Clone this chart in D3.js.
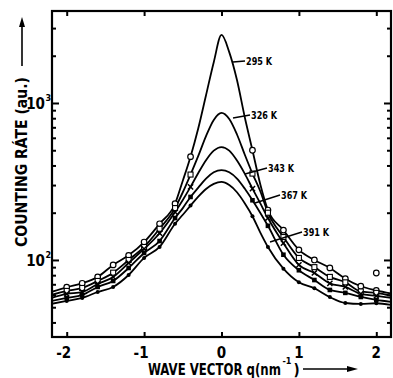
<!DOCTYPE html>
<html><head><meta charset="utf-8">
<script src="https://cdn.jsdelivr.net/npm/d3@7"></script>
<style>body{margin:0;background:#fff}svg{display:block}</style>
</head><body>
<svg id="c" width="393" height="378"></svg>
<script>
// wave vector q (nm^-1)
const qValues = [-2.2,-2,-1.8,-1.6,-1.4,-1.2,-1,-0.8,-0.6,-0.5,-0.4,-0.3,-0.2,-0.1,0,0.1,0.2,0.3,0.4,0.5,0.6,0.8,1,1.2,1.4,1.6,1.8,2,2.2];
// counting rate (a.u.) per temperature
const rate295 = [62.5,67,71,78,93,107,130,170,228,320,455,690,1120,1820,2712,2110,1400,815,500,305,208,155,116,100,89,76,68,64,61];
const rate326 = [59.8,63.5,66.3,73.5,83,100,121,158,214,270,350,460,615,780,864,790,630,470,355,275,200,140,103,90,78,72,63,61.7,59];
const rate343 = [57.3,60.8,62.5,70.3,78,95.7,117.5,148,202,241,292,358,432,497,524,497,430,355,285,230,185,128,93,82.6,71,67.3,60.8,59,57.3];
const rate367 = [54.8,57.3,59.8,67.3,73.5,88.9,110.8,132,185,214,252,289,330,362,374,362,330,285,240,200,165,108,86,74.5,64.4,61.7,58.1,55.6,54];
const rate391 = [52.5,54.8,57.3,62.5,67.3,80.2,103,121,170,194,222,253,283,305,314,300,270,230,190,150,121,88,72,66,58,53.2,52.5,53,51.6];
const seriesLabels = ["295 K","326 K","343 K","367 K","391 K"];
const markerTypes = ["openCircle","openSquare","cross","filledSquare","filledCircle"];
// q positions that carry measured points
const markQ = [-2,-1.8,-1.6,-1.4,-1.2,-1,-0.8,-0.6,-0.4,0.4,0.6,0.8,1,1.2,1.4,1.6,1.8,2];
// stray point
const strayQ = [2];
const strayRate = [82.6];
const xTicks = [-2,-1,0,1,2];
const yMajor = [100,1000];
const yMajorLabels = ["2","3"];

const svg = d3.select("#c");
const L=52,R=391,T=11,B=337;
const x = d3.scaleLinear().domain([-2.19,2.19]).range([L,R]);
const y = d3.scaleLog().domain([32.3,3855]).range([B,T]);
const font = "'Liberation Sans Narrow','DejaVu Sans Condensed',sans-serif";

svg.append("clipPath").attr("id","clip").append("rect").attr("x",L).attr("y",T).attr("width",R-L).attr("height",B-T);

const all = [rate295,rate326,rate343,rate367,rate391];
const line = d3.line().x(d=>x(d[0])).y(d=>y(d[1])).curve(d3.curveMonotoneX);
const g = svg.append("g").attr("clip-path","url(#clip)");
all.forEach((s,i)=>{
  const pts = qValues.map((q,j)=>[q,s[j]]);
  g.append("path").attr("d",line(pts)).attr("fill","none").attr("stroke","#000").attr("stroke-width",1.8);
});
function marker(sel,type,cx,cy){
  if(type==="openCircle") sel.append("circle").attr("cx",cx).attr("cy",cy).attr("r",2.8).attr("fill","#fff").attr("stroke","#000").attr("stroke-width",1.2);
  else if(type==="openSquare") sel.append("rect").attr("x",cx-2.5).attr("y",cy-2.5).attr("width",5).attr("height",5).attr("fill","#fff").attr("stroke","#000").attr("stroke-width",1.1);
  else if(type==="cross") sel.append("path").attr("d",`M${cx-2.6},${cy-2.6}L${cx+2.6},${cy+2.6}M${cx-2.6},${cy+2.6}L${cx+2.6},${cy-2.6}`).attr("stroke","#000").attr("stroke-width",1.5);
  else if(type==="filledSquare") sel.append("rect").attr("x",cx-2.3).attr("y",cy-2.3).attr("width",4.6).attr("height",4.6).attr("fill","#000");
  else sel.append("circle").attr("cx",cx).attr("cy",cy).attr("r",2).attr("fill","#000");
}
all.forEach((s,i)=>{
  qValues.forEach((q,j)=>{
    if(markQ.some(m=>Math.abs(m-q)<1e-9)) marker(g,markerTypes[i],x(q),y(s[j]));
  });
});
strayQ.forEach((q,i)=>marker(g,"openCircle",x(q),y(strayRate[i])));

// frame
svg.append("rect").attr("x",L).attr("y",T).attr("width",R-L).attr("height",B-T).attr("fill","none").attr("stroke","#000").attr("stroke-width",2.2);

// axes with inward ticks
const minor = [];
[10,100,1000].forEach(d=>{for(let k=2;k<=9;k++){const v=d*k; if(v>32.3&&v<3855) minor.push(v);}});
function yTicks(pos,gen){
  svg.append("g").attr("transform",`translate(${pos},0)`).call(gen(y).tickValues(minor).tickSize(4).tickFormat("")).call(a=>a.select(".domain").remove()).selectAll("line").attr("stroke-width",2);
  svg.append("g").attr("transform",`translate(${pos},0)`).call(gen(y).tickValues(yMajor).tickSize(7).tickFormat("")).call(a=>a.select(".domain").remove()).selectAll("line").attr("stroke-width",2);
}
yTicks(L,d3.axisRight);
yTicks(R,d3.axisLeft);
svg.append("g").attr("transform",`translate(0,${B})`).call(d3.axisTop(x).tickValues(xTicks).tickSize(5).tickFormat("")).call(a=>a.select(".domain").remove()).selectAll("line").attr("stroke-width",2);
svg.append("g").attr("transform",`translate(0,${T})`).call(d3.axisBottom(x).tickValues(xTicks).tickSize(5).tickFormat("")).call(a=>a.select(".domain").remove()).selectAll("line").attr("stroke-width",2);

// x tick labels
xTicks.forEach(t=>{
  svg.append("text").attr("x",x(t)-(t<0?3:0)).attr("y",358).attr("text-anchor","middle").attr("font-family",font).attr("font-weight","bold").attr("font-size",15).text(t<0?"-"+Math.abs(t):String(t));
});
// y tick labels
yMajor.forEach((v,i)=>{
  svg.append("text").attr("x",45).attr("y",y(v)+6).attr("text-anchor","end").attr("font-family",font).attr("font-weight","bold").attr("font-size",15).text("10");
  svg.append("text").attr("x",45.5).attr("y",y(v)-2).attr("font-family",font).attr("font-weight","bold").attr("font-size",9).text(yMajorLabels[i]);
});
// y axis title
svg.append("text").attr("transform","translate(27,247) rotate(-90)").attr("font-family",font).attr("font-weight","bold").attr("font-size",15).attr("textLength",170).attr("lengthAdjust","spacingAndGlyphs").text("COUNTING RÁTE  (au.)");
svg.append("line").attr("x1",22).attr("x2",22).attr("y1",66).attr("y2",22).attr("stroke","#000").attr("stroke-width",1.6);
svg.append("path").attr("d","M22,17L19,27L25,27Z").attr("fill","#000");
// x axis title
const xTitle = svg.append("text").attr("font-family",font).attr("font-weight","bold").attr("font-size",15).text("WAVE VECTOR q(nm");
const nat = xTitle.node().getComputedTextLength();
xTitle.attr("transform",`translate(148,375) scale(${133/nat},1)`);
svg.append("text").attr("x",282.5).attr("y",364).attr("font-family",font).attr("font-weight","bold").attr("font-size",9).text("-1");
svg.append("text").attr("x",293.5).attr("y",375).attr("font-family",font).attr("font-weight","bold").attr("font-size",15).text(")");
svg.append("line").attr("x1",303).attr("x2",352).attr("y1",369).attr("y2",369).attr("stroke","#000").attr("stroke-width",1.6);
svg.append("path").attr("d","M358,369L347,366L347,372Z").attr("fill","#000");

// curve labels with leader lines
const labelPos = [[233,62,245,61],[233,118,250,115],[245,174,267,168],[255,203,280,195],[270,242,302,232]];
seriesLabels.forEach((s,i)=>{
  const p = labelPos[i];
  svg.append("line").attr("x1",p[0]).attr("y1",p[1]).attr("x2",p[2]).attr("y2",p[3]).attr("stroke","#000").attr("stroke-width",1.4);
  svg.append("text").attr("x",p[2]+1).attr("y",p[3]+4).attr("font-family",font).attr("font-weight","bold").attr("font-size",11).attr("textLength",26).attr("lengthAdjust","spacingAndGlyphs").text(s);
});
</script>
</body></html>
